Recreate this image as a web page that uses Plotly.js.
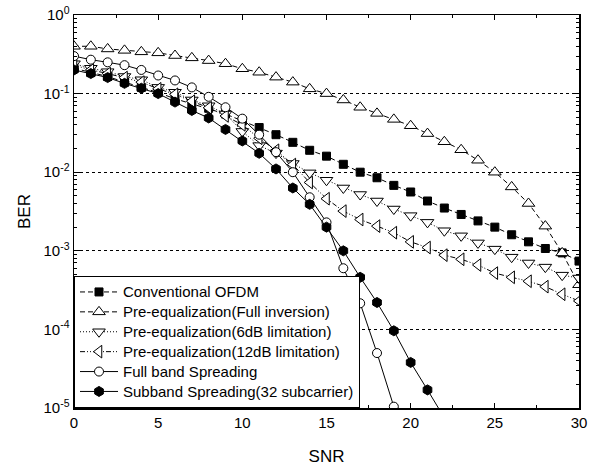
<!DOCTYPE html>
<html>
<head>
<meta charset="utf-8">
<script src="https://cdn.plot.ly/plotly-3.0.1.min.js"></script>
<style>html,body{margin:0;padding:0;background:#fff;}#chart{width:602px;height:466px;}</style>
</head>
<body>
<div id="chart"></div>
<script>
// SNR values (dB)
const snrFull = [0,1,2,3,4,5,6,7,8,9,10,11,12,13,14,15,16,17,18,19,20,21,22,23,24,25,26,27,28,29,30];
const snrFullBand = [0,1,2,3,4,5,6,7,8,9,10,11,12,13,14,15,16,17,18,19];
const snrSubband = [0,1,2,3,4,5,6,7,8,9,10,11,12,13,14,15,16,17,18,19,20,21,22];

const berConventional = [0.21,0.185,0.165,0.14,0.12,0.103,0.086,0.074,0.065,0.055,0.045,0.037,0.030,0.024,0.019,0.016,0.0126,0.010,0.0085,0.0068,0.0056,0.0043,0.0035,0.0029,0.0024,0.0020,0.0016,0.0013,0.00107,0.00094,0.00074];
const berFullInversion = [0.40,0.40,0.37,0.355,0.34,0.33,0.305,0.285,0.263,0.24,0.207,0.187,0.162,0.14,0.115,0.1,0.083,0.067,0.056,0.047,0.039,0.031,0.0244,0.0193,0.0142,0.0100,0.0065,0.0040,0.00206,0.00094,0.00037];
const ber6dB = [0.24,0.21,0.19,0.165,0.15,0.12,0.104,0.083,0.07,0.055,0.033,0.0218,0.0175,0.0129,0.0098,0.0079,0.0063,0.0052,0.0043,0.0034,0.0028,0.0023,0.0018,0.00155,0.00126,0.00105,0.00083,0.0007,0.00062,0.00049,0.00045];
const ber12dB = [0.23,0.2,0.18,0.16,0.14,0.115,0.098,0.08,0.066,0.052,0.04,0.027,0.019,0.0125,0.0074,0.0046,0.0032,0.0025,0.00206,0.0017,0.0013,0.0011,0.00088,0.00078,0.00066,0.00052,0.00046,0.00041,0.00035,0.00028,0.00023];
const berFullBand = [0.3,0.27,0.25,0.23,0.2,0.17,0.147,0.12,0.091,0.067,0.048,0.030,0.018,0.010,0.0048,0.0023,0.0006,0.000215,0.00005,0.0000104];
const berSubband = [0.2,0.18,0.16,0.135,0.117,0.1,0.078,0.061,0.049,0.035,0.025,0.0174,0.011,0.0063,0.0039,0.0020,0.001,0.00046,0.00022,0.000096,0.000038,0.000017,0.0000075];

const seriesNames = ["Conventional OFDM","Pre-equalization(Full inversion)","Pre-equalization(6dB limitation)","Pre-equalization(12dB limitation)","Full band Spreading","Subband Spreading(32 subcarrier)"];

const yTickVals = [1,0.1,0.01,0.001,0.0001,0.00001];
const yTickText = ["10<sup>0</sup>","10<sup>-1</sup>","10<sup>-2</sup>","10<sup>-3</sup>","10<sup>-4</sup>","10<sup>-5</sup>"];

// legend label: drawn at 15px while row spacing follows a 13px legend font
const lbl = s => '<span style="font-size:15px">' + s + '</span>';

const mline = {color:'black', width:1};
const traces = [
  {x:snrFull, y:berConventional, name:lbl(seriesNames[0]), mode:'lines+markers',
   line:{color:'black', width:1, dash:'5px,3px'}, marker:{symbol:'square', size:8, color:'black', line:mline}},
  {x:snrFull, y:berFullInversion, name:lbl(seriesNames[1]), mode:'lines+markers',
   line:{color:'black', width:1, dash:'5px,3px'}, marker:{symbol:'triangle-up', size:11, color:'white', line:mline}},
  {x:snrFull, y:ber6dB, name:lbl(seriesNames[2]), mode:'lines+markers',
   line:{color:'black', width:1, dash:'1px,2px'}, marker:{symbol:'triangle-down', size:11, color:'white', line:mline}},
  {x:snrFull, y:ber12dB, name:lbl(seriesNames[3]), mode:'lines+markers',
   line:{color:'black', width:1, dash:'5px,2px,1px,2px,1px,2px'}, marker:{symbol:'triangle-left', size:11, color:'white', line:mline}},
  {x:snrFullBand, y:berFullBand, name:lbl(seriesNames[4]), mode:'lines+markers',
   line:{color:'black', width:1}, marker:{symbol:'circle', size:9, color:'white', line:mline}},
  {x:snrSubband, y:berSubband, name:lbl(seriesNames[5]), mode:'lines+markers',
   line:{color:'black', width:1}, marker:{symbol:'hexagon', size:10, color:'black', line:mline}}
];

const fontFam = 'Liberation Sans, Arial, sans-serif';
const layout = {
  width:602, height:466,
  margin:{l:74, r:23, t:15, b:58},
  paper_bgcolor:'white', plot_bgcolor:'white',
  font:{family:fontFam, color:'black', size:15},
  showlegend:true,
  legend:{x:0, y:0, xanchor:'left', yanchor:'bottom', bgcolor:'white', bordercolor:'black', borderwidth:1,
          font:{family:fontFam, size:13, color:'black'}, tracegroupgap:0, itemwidth:38},
  xaxis:{range:[0,30], tickmode:'linear', tick0:0, dtick:5, ticks:'inside', ticklen:5, tickwidth:1, tickcolor:'black',
         minor:{ticks:'inside', dtick:2.5, tick0:0, ticklen:3, tickcolor:'black', showgrid:false},
         showline:true, linecolor:'black', linewidth:1.5, mirror:'ticks', showgrid:false, zeroline:false,
         tickfont:{size:15}, title:{text:'SNR', font:{size:17}, standoff:20}},
  yaxis:{type:'log', range:[-5,0], tickmode:'array', tickvals:yTickVals, ticktext:yTickText,
         ticks:'inside', ticklen:6, tickwidth:1, tickcolor:'black',
         minor:{ticks:'inside', dtick:'D1', ticklen:3, tickcolor:'black', showgrid:false},
         showline:true, linecolor:'black', linewidth:1.5, mirror:'ticks',
         showgrid:true, gridcolor:'black', gridwidth:1, griddash:'dot', zeroline:false,
         tickfont:{size:15}, title:{text:'BER', font:{size:17}, standoff:8}}
};

Plotly.newPlot('chart', traces, layout, {displayModeBar:false, staticPlot:true});
</script>
</body>
</html>
